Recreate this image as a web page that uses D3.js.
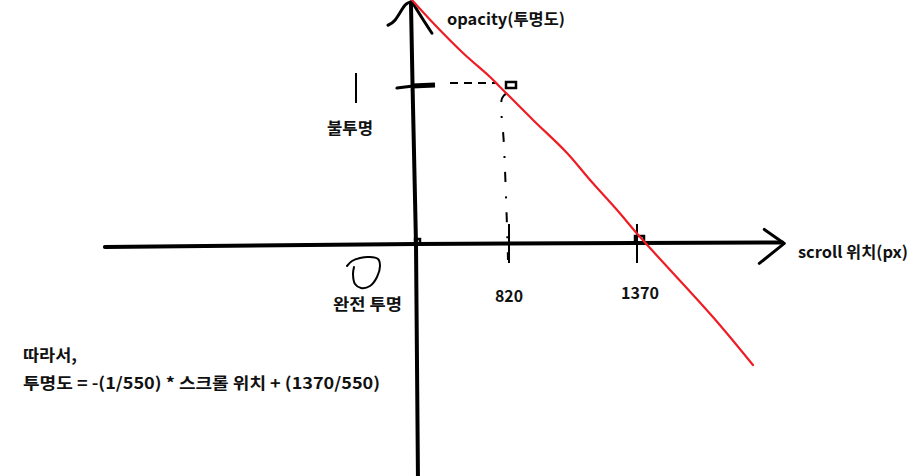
<!DOCTYPE html>
<html><head><meta charset="utf-8">
<script src="https://cdn.jsdelivr.net/npm/d3@7"></script>
<style>
html,body{margin:0;padding:0;background:#fff;}
text{font-family:"Noto Sans CJK KR","Noto Sans",sans-serif;font-weight:700;fill:#111;}
</style></head>
<body>
<svg id="c" width="917" height="476"></svg>
<script>
// ---- data ----
const xTickValues = [820, 1370];
const xTickLabels = ["820", "1370"];
const yTickValues = [1];
const yAxisLabel = "opacity(투명도)";
const xAxisLabel = "scroll 위치(px)";
const opaqueLabel = "불투명";
const transparentLabel = "완전 투명";
const noteLines = ["따라서,", "투명도 = -(1/550) * 스크롤 위치 + (1370/550)"];
// hand-drawn red line (scroll position, opacity)
const redScroll  = [-35, 166, 410, 646, 733, 919, 1065, 1164, 1280, 1379, 1692, 1864];
const redOpacity = [1.544, 1.386, 1.209, 1.057, 0.994, 0.785, 0.576, 0.405, 0.215, 0.044, -0.462, -0.766];
// hand-drawn axes (scroll, opacity)
const hAxisScroll  = [-2714, 0, 1990];
const hAxisOpacity = [-0.019, 0, 0.01];
const vAxisScroll  = [-44, -30, 0, 17];
const vAxisOpacity = [1.53, 1, 0, -1.47];

// ---- scales ----
const x = d3.scaleLinear().domain([0, 820, 1370]).range([416, 510, 638]);
const y = d3.scaleLinear().domain([0, 1]).range([244, 86]);

const svg = d3.select("#c");
const line = d3.line().x(d => x(d[0])).y(d => y(d[1]));
const pxLine = d3.line();

// axes
svg.append("path").attr("d", line(d3.zip(hAxisScroll, hAxisOpacity)))
  .attr("fill","none").attr("stroke","#000").attr("stroke-width",4).attr("stroke-linecap","round");
svg.append("path").attr("d", line(d3.zip(vAxisScroll, vAxisOpacity)))
  .attr("fill","none").attr("stroke","#000").attr("stroke-width",4).attr("stroke-linecap","round");

// arrowheads
const hx = x(hAxisScroll[2]), hy = y(hAxisOpacity[2]);
svg.append("path").attr("d", pxLine([[hx-18,hy-13],[hx+2,hy+1],[hx-23,hy+21]]))
  .attr("fill","none").attr("stroke","#000").attr("stroke-width",3).attr("stroke-linecap","round").attr("stroke-linejoin","round");
const vx = x(vAxisScroll[0]), vy = y(vAxisOpacity[0]);
svg.append("path").attr("d", d3.line().curve(d3.curveCardinal)([[vx-23,vy+23],[vx-16,vy+18],[vx-6,vy+3],[vx,vy]]))
  .attr("fill","none").attr("stroke","#000").attr("stroke-width",3).attr("stroke-linecap","round");
svg.append("path").attr("d", d3.line().curve(d3.curveCardinal)([[vx+2,vy+1],[vx+10,vy+14],[vx+21,vy+31]]))
  .attr("fill","none").attr("stroke","#000").attr("stroke-width",3).attr("stroke-linecap","round");

// y tick at opacity 1
yTickValues.forEach(v => {
  const ty = y(v);
  svg.append("path").attr("d", pxLine([[397,ty+2],[413,ty]])).attr("stroke","#000").attr("stroke-width",3).attr("stroke-linecap","round");
  svg.append("path").attr("d", pxLine([[412,ty],[435,ty-1]])).attr("stroke","#000").attr("stroke-width",5);
});

// x ticks
const tickWidths = [28, 38];
xTickValues.forEach((v,i) => {
  const tx = x(v);
  svg.append("path").attr("d", pxLine([[tx-1, y(0)-20],[tx-1, y(0)+19]])).attr("stroke","#000").attr("stroke-width",2);
  svg.append("text").attr("x", tx - 1 - tickWidths[i]/2 + (i ? 3 : 0)).attr("y", y(0)+58 - i*3)
    .attr("font-size",16).attr("textLength", tickWidths[i]).attr("lengthAdjust","spacingAndGlyphs").text(xTickLabels[i]);
});

// dashed guides to (820, 1)
svg.append("path").attr("d", pxLine([[450, y(1)-3],[496, y(1)-3]]))
  .attr("stroke","#000").attr("stroke-width",2).attr("stroke-dasharray","8,6");
svg.append("path").attr("d", d3.line().curve(d3.curveCardinal)([[x(820)-4,y(1)+8],[x(820)-9,y(1)+18],[x(820)-6,y(1)+60],[x(820)-3,y(1)+140],[x(820)-2,y(0)+16]]))
  .attr("fill","none").attr("stroke","#000").attr("stroke-width",2).attr("stroke-dasharray","10,14,2,14");

// small squares
function box(cx, cy, w, h){
  svg.append("rect").attr("x",cx).attr("y",cy).attr("width",w).attr("height",h)
    .attr("fill","none").attr("stroke","#000").attr("stroke-width",2.5);
}
box(x(820)-4, y(1)-4, 10, 6);
box(x(1370)-3, y(0)-8, 9, 7);
box(x(0)-1, y(0)-5, 5, 5);

// red line
svg.append("path").attr("d", line.curve(d3.curveCatmullRom)(d3.zip(redScroll, redOpacity)))
  .attr("fill","none").attr("stroke","#ee1c24").attr("stroke-width",2.2).attr("stroke-linecap","round");

// short mark next to 불투명
svg.append("path").attr("d", pxLine([[356,73],[356,103]])).attr("stroke","#000").attr("stroke-width",2);

// hand drawn zero
svg.append("path").attr("d", d3.line().curve(d3.curveCatmullRom)([[347,266],[352,261],[360,258],[369,257],[378,259],[380,266],[377,277],[370,286],[361,288],[355,284],[353,274],[354,267]]))
  .attr("fill","none").attr("stroke","#000").attr("stroke-width",2).attr("stroke-linecap","round");

// labels
function label(t, lx, ly, w){
  svg.append("text").attr("x",lx).attr("y",ly).attr("font-size",16)
    .attr("textLength", w).attr("lengthAdjust","spacingAndGlyphs").text(t);
}
label(yAxisLabel, 447, 25, 118);
label(xAxisLabel, 798, 258, 110);
label(opaqueLabel, 327, 134, 46);
label(transparentLabel, 333, 310, 69);
label(noteLines[0], 23, 361, 54);
label(noteLines[1], 23, 389, 357);
</script>
</body></html>
